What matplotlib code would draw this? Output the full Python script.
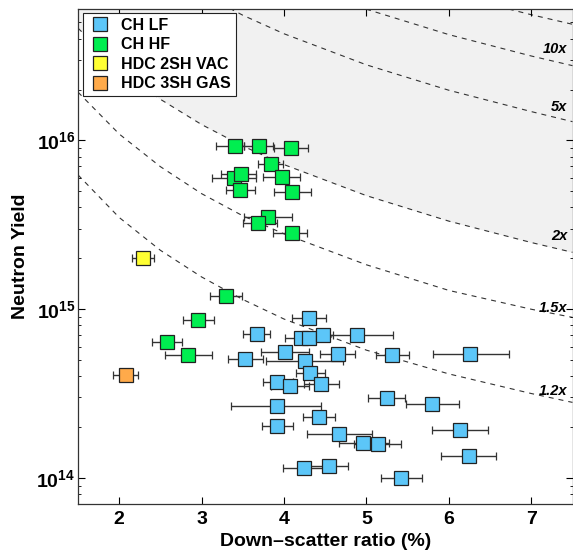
import numpy as np
import matplotlib
matplotlib.use('Agg')
import matplotlib.pyplot as plt
from matplotlib.lines import Line2D

plt.rcParams['font.family'] = ['Liberation Sans', 'DejaVu Sans']
plt.rcParams['font.weight'] = 'bold'
plt.rcParams['mathtext.fontset'] = 'custom'
plt.rcParams['mathtext.bf'] = 'Liberation Sans:bold'
plt.rcParams['mathtext.rm'] = 'Liberation Sans:bold'
plt.rcParams['mathtext.default'] = 'bf'

# CH LF shots: down-scatter ratio (%), yield, x error low / high
lf_dsr = [4.30, 3.67, 4.20, 4.30, 4.47, 4.88, 4.01, 4.65, 5.31, 3.53, 4.25, 4.32, 3.91, 4.07, 4.45,
          5.25, 3.91, 4.42, 3.92, 4.67, 4.96, 5.14, 4.24, 4.55, 5.42, 6.26, 5.80, 6.13, 6.25]
lf_yield = [8.9e14, 7.15e14, 6.7e14, 6.7e14, 7.05e14, 7.05e14, 5.56e14, 5.41e14, 5.36e14, 5.04e14,
            4.93e14, 4.17e14, 3.71e14, 3.51e14, 3.60e14, 2.96e14, 2.66e14, 2.30e14, 2.02e14, 1.83e14,
            1.60e14, 1.58e14, 1.15e14, 1.18e14, 9.93e13, 5.41e14, 2.74e14, 1.92e14, 1.35e14]
lf_err_lo = [0.20, 0.17, 0.19, 0.16, 0.14, 0.46, 0.29, 0.21, 0.20, 0.21, 0.47, 0.17, 0.17, 0.23, 0.21,
             0.23, 0.55, 0.19, 0.19, 0.39, 0.29, 0.29, 0.25, 0.23, 0.24, 0.45, 0.32, 0.34, 0.34]
lf_err_hi = [0.21, 0.16, 0.17, 0.16, 0.12, 0.44, 0.29, 0.21, 0.21, 0.21, 0.47, 0.18, 0.20, 0.23, 0.22,
             0.22, 0.54, 0.20, 0.19, 0.40, 0.31, 0.28, 0.24, 0.23, 0.25, 0.47, 0.32, 0.34, 0.32]

# CH HF shots
hf_dsr = [3.40, 3.70, 4.08, 3.84, 3.97, 3.39, 3.48, 3.47, 4.10, 3.80, 3.69, 4.10, 3.29, 2.96, 2.58, 2.84]
hf_yield = [9.25e15, 9.25e15, 9.0e15, 7.2e15, 6.1e15, 5.98e15, 6.3e15, 5.08e15, 4.92e15, 3.5e15,
            3.24e15, 2.84e15, 1.19e15, 8.67e14, 6.4e14, 5.33e14]
hf_err_lo = [0.22, 0.18, 0.20, 0.15, 0.23, 0.27, 0.25, 0.17, 0.22, 0.28, 0.19, 0.24, 0.19, 0.19, 0.18, 0.29]
hf_err_hi = [0.12, 0.17, 0.21, 0.15, 0.22, 0.27, 0.18, 0.18, 0.23, 0.30, 0.22, 0.18, 0.20, 0.19, 0.18, 0.29]

# HDC shots
vac_dsr, vac_yield, vac_err = [2.29], [2.02e15], [0.13]
gas_dsr, gas_yield, gas_err = [2.08], [4.06e14], [0.15]

# dashed guide curves
curve_x = [1.5, 2.0, 2.5, 3.0, 3.5, 4.0, 5.0, 6.0, 7.0, 7.5]
curve_12 = [6.24e15, 3.49e15, 2.23e15, 1.55e15, 1.14e15, 8.73e14, 5.71e14, 4.13e14, 3.16e14, 2.80e14]
curve_15 = [1.93e16, 1.09e16, 6.98e15, 4.83e15, 3.57e15, 2.79e15, 1.83e15, 1.29e15, 9.98e14, 8.93e14]
curve_2 = [4.62e16, 2.68e16, 1.75e16, 1.24e16, 9.25e15, 7.18e15, 4.70e15, 3.32e15, 2.48e15, 2.17e15]
curve5_x = [3.0, 3.5, 4.0, 5.0, 6.0, 7.0, 7.5]
curve_5 = [7.40e16, 5.51e16, 4.28e16, 2.80e16, 1.98e16, 1.48e16, 1.29e16]
curve10_x = [4.5, 5.0, 6.0, 7.0, 7.5]
curve_10 = [7.31e16, 5.98e16, 4.23e16, 3.16e16, 2.77e16]
curve20_x = [6.0, 6.5, 7.0, 7.5]
curve_20 = [7.43e16, 6.39e16, 5.55e16, 4.87e16]

# curve labels
lab_text = ['10x', '5x', '2x', '1.5x', '1.2x']
lab_y = [3.46e16, 1.57e16, 2.70e15, 1.02e15, 3.27e14]

# legend entries
names = ['CH LF', 'CH HF', 'HDC 2SH VAC', 'HDC 3SH GAS']
colors = ['#5cc6f8', '#00ee50', '#ffff33', '#ffaa4a']

fig = plt.figure(figsize=(5.73, 5.55), dpi=100)
ax = fig.add_axes([78 / 573, 1 - 504 / 555, 494.5 / 573, 495 / 555])

ax.fill_between(curve_x, curve_2, 1e18, color='#f1f1f1', lw=0, zorder=0)
for cx, cy in [(curve_x, curve_12), (curve_x, curve_15), (curve_x, curve_2),
               (curve5_x, curve_5), (curve10_x, curve_10), (curve20_x, curve_20)]:
    ax.plot(cx, cy, color='#333333', lw=0.8, dashes=(4.5, 4.5), zorder=1)
for t, yy in zip(lab_text, lab_y):
    ax.text(7.44, yy, t, ha='right', va='center', fontsize=10.5, style='italic', fontweight='bold')

ebkw = dict(fmt='s', ms=9.5, mec='#222222', mew=0.9, ecolor='#333333', elinewidth=1.0,
            capsize=3, capthick=1.0, zorder=3)
ax.errorbar(lf_dsr, lf_yield, xerr=[lf_err_lo, lf_err_hi], mfc=colors[0], **ebkw)
ax.errorbar(hf_dsr, hf_yield, xerr=[hf_err_lo, hf_err_hi], mfc=colors[1], **ebkw)
ax.errorbar(vac_dsr, vac_yield, xerr=vac_err, mfc=colors[2], **ebkw)
ax.errorbar(gas_dsr, gas_yield, xerr=gas_err, mfc=colors[3], **ebkw)

ax.set_yscale('log')
ax.set_xlim(1.5, 7.5)
ax.set_ylim(7e13, 6e16)
ax.set_xticks([2, 3, 4, 5, 6, 7])
ax.tick_params(which='both', direction='in', top=True, right=True, labelsize=14)
ax.tick_params(which='major', length=5, width=0.8)
ax.tick_params(which='minor', length=2.5, width=0.6)
ax.tick_params(axis='x', pad=5)
ax.tick_params(axis='y', pad=2)
for s in ax.spines.values():
    s.set_color('#333333')
    s.set_linewidth(0.9)

ax.set_xlabel('Down\u2013scatter ratio (%)', fontsize=14, fontweight='bold', labelpad=4)
ax.set_ylabel('Neutron Yield', fontsize=14, fontweight='bold', labelpad=5)

handles = [Line2D([], [], ls='none', marker='s', ms=9.5, mfc=c, mec='#222222', mew=0.9) for c in colors]
leg = ax.legend(handles, names, loc='upper left', fontsize=11.5, frameon=True, fancybox=False,
                framealpha=1, edgecolor='#222222', handletextpad=0.6, borderpad=0.3,
                labelspacing=0.28, handlelength=1.5, borderaxespad=0,
                bbox_to_anchor=(0.01, 0.992))
leg.get_frame().set_linewidth(0.8)

fig.savefig('out.png', dpi=100)
